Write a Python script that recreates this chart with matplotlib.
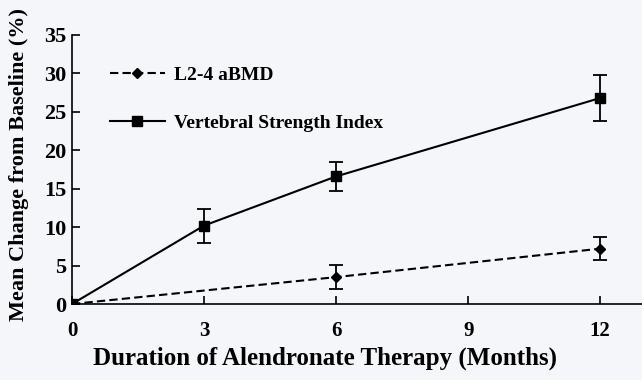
import matplotlib.pyplot as plt

# months of therapy
months = [0, 3, 6, 12]

# Vertebral Strength Index
vsi_mean = [0.0, 10.2, 16.6, 26.8]
vsi_err = [0.0, 2.2, 1.9, 3.0]

# L2-4 aBMD
bmd_months = [0, 6, 12]
bmd_mean = [0.0, 3.5, 7.2]
bmd_err = [0.0, 1.6, 1.5]

xticks = [0, 3, 6, 9, 12]
yticks = [0, 5, 10, 15, 20, 25, 30, 35]

plt.rcParams['font.family'] = ['Liberation Serif', 'DejaVu Serif']
plt.rcParams['font.weight'] = 'bold'

bg = '#f5f6f9'
fig = plt.figure(figsize=(6.42, 3.80), dpi=100, facecolor=bg)
ax = fig.add_axes([72 / 642, 76 / 380, 1 - 72 / 642, 269 / 380])
ax.set_facecolor(bg)

# lines + markers (used for the legend)
ax.plot(bmd_months, bmd_mean, color='black', linestyle=(0, (4, 2)), linewidth=1.5,
        marker='D', markersize=5, label='L2-4 aBMD')
ax.plot(months, vsi_mean, color='black', linestyle='-', linewidth=1.5,
        marker='s', markersize=6.5, label='Vertebral Strength Index')

# error bars
ax.errorbar(bmd_months[1:], bmd_mean[1:], yerr=bmd_err[1:], fmt='none', ecolor='black',
            capsize=5, capthick=1.3, elinewidth=1.3)
ax.errorbar(months[1:], vsi_mean[1:], yerr=vsi_err[1:], fmt='none', ecolor='black',
            capsize=5, capthick=1.3, elinewidth=1.3)

ax.set_xlim(0, 12.95)
ax.set_ylim(0, 35)
ax.set_xticks(xticks)
ax.set_yticks(yticks)
ax.tick_params(direction='in', length=6, width=1.2)
ax.tick_params(axis='x', pad=12, labelsize=15)
ax.tick_params(axis='y', pad=4, labelsize=16)
for lab in ax.get_xticklabels() + ax.get_yticklabels():
    lab.set_fontweight('bold')
ax.spines['top'].set_visible(False)
ax.spines['right'].set_visible(False)
ax.spines['left'].set_linewidth(1.2)
ax.spines['bottom'].set_linewidth(1.2)

ax.set_xlabel('Duration of Alendronate Therapy (Months)', fontsize=18, fontweight='bold')
ax.xaxis.set_label_coords(0.444, -0.16)
ax.set_ylabel('Mean Change from Baseline (%)', fontsize=16, fontweight='bold')
ax.yaxis.set_label_coords(-0.076, 0.52)

leg = ax.legend(loc='upper left', bbox_to_anchor=(0.067, 0.885), frameon=False,
                fontsize=14, handlelength=2.8, labelspacing=1.6, handletextpad=0.5,
                borderaxespad=0, borderpad=0)
for t in leg.get_texts():
    t.set_fontweight('bold')

fig.savefig('out.png', dpi=100, facecolor=bg)
